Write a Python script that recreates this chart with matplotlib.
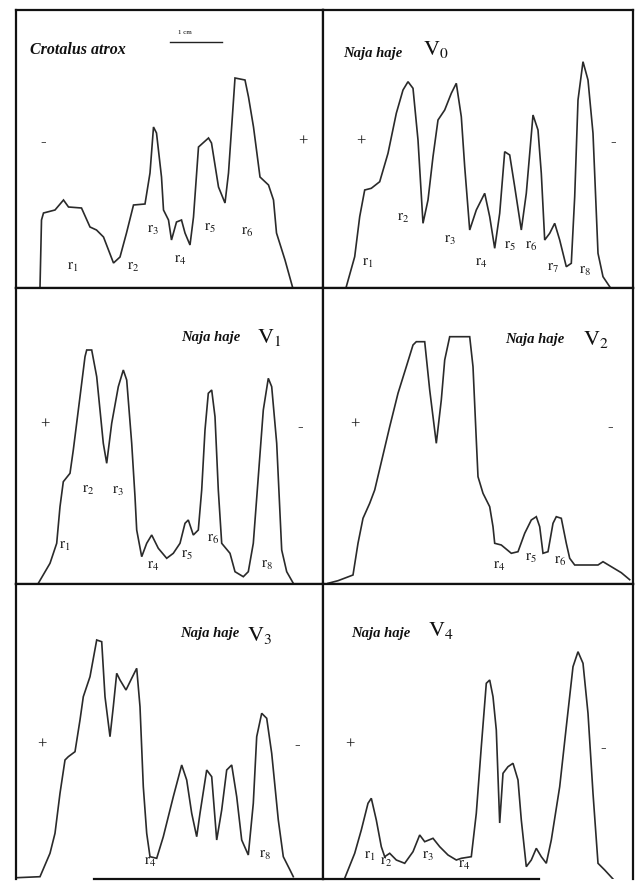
import matplotlib.pyplot as plt
from matplotlib.lines import Line2D

plt.rcParams["font.family"] = ["Liberation Serif", "DejaVu Serif"]
plt.rcParams["mathtext.fontset"] = "stix"

# densitometer traces: x along the strip, y = density (px)
atrox_x = [24.5, 26, 28, 39.5, 48, 53, 66, 74.5, 81, 88, 98, 104.5, 111, 118, 129.5,
           134.5, 138, 141, 146, 148, 153, 156, 161, 166, 169.5, 174.5, 178, 183, 193,
           196, 203, 209.5, 213, 218, 219.5, 229.5, 233, 238, 241, 244.5, 253, 258,
           261, 269.5, 277]
atrox_y = [1, 68, 75, 78, 88, 81, 80, 61, 58, 51, 25, 31, 55, 83, 84,
           115, 161, 155, 111, 78, 68, 48, 66, 68, 55, 43, 71, 141, 150,
           145, 101, 85, 115, 188, 210, 208, 191, 161, 138, 111, 103, 88,
           55, 28, 1]

v0_x = [23.3, 31.7, 36.7, 41.7, 48.3, 56.7, 65, 73.3, 80, 85, 90, 95, 100, 105, 110,
        115, 121.7, 128.3, 133.3, 138.3, 141.7, 146.7, 153.3, 161.7, 166.7, 171.7,
        176.7, 181.7, 186.7, 191.7, 198.3, 203.3, 210, 215, 218.3, 221.7, 226.7,
        231.7, 236.7, 243.3, 248.3, 251.7, 255, 260, 265, 270, 275, 280, 286.7]
v0_y = [1.3, 31.3, 71.3, 98, 99.7, 106.3, 134.7, 174.7, 198, 206.3, 199.7, 148, 64.7,
        88, 131.3, 168, 178, 194.7, 204.7, 171.3, 121.3, 58, 78, 94.7, 71.3, 39.7,
        74.7, 136.3, 133, 101.3, 58, 94.7, 173, 158, 114.7, 48, 54.7, 64.7, 48, 21.3,
        24.7, 91.3, 188, 226.3, 208, 154.7, 34.7, 11.3, 1.3]

v1_x = [22.8, 34.5, 41.2, 44.5, 47.8, 54.5, 57.8, 64.5, 69.5, 71.2, 76.2, 81.2, 87.8,
        91.2, 96.2, 102.8, 107.8, 111.2, 116.2, 119.5, 121.2, 126.2, 131.2, 136.2,
        142.8, 151.2, 157.8, 164.5, 169.5, 172.8, 177.8, 182.8, 186.2, 189.5, 192.8,
        196.2, 199.5, 202.8, 206.2, 214.5, 219.5, 227.8, 232.8, 237.8, 242.8, 247.8,
        252.8, 256.2, 261.2, 266.2, 271.2, 277.8]
v1_y = [0.7, 20.7, 40.7, 77.3, 102.3, 110.7, 134, 187.3, 227.3, 234, 234, 207.3, 140.7,
        120.7, 160.7, 197.3, 214, 204, 140.7, 87.3, 54, 27.3, 40.7, 49, 35.7, 25.7,
        30.7, 40.7, 60.7, 64, 49, 54, 94, 154, 190.7, 194, 167.3, 94, 40.7, 30.7,
        12.3, 7.3, 12.3, 40.7, 107.3, 174, 205.7, 197.3, 140.7, 34, 12.3, 0.7]

v2_x = [5, 15, 30, 35, 40, 46.7, 51.7, 60, 66.7, 75, 83.3, 90, 93.3, 101.7, 106.7,
        113.3, 118.3, 121.7, 126.7, 146.7, 150, 153.3, 155, 160, 166.7, 170, 171.7,
        178.3, 188.3, 195, 201.7, 208.3, 213.3, 216.7, 220, 225, 230, 233.3, 238.3,
        243.3, 246.7, 251.7, 275, 280, 298.3, 306.7]
v2_y = [0.7, 3.3, 9, 40.7, 65.7, 80.7, 94, 129, 157.3, 190.7, 217.3, 239, 242.3, 242.3,
        194, 140.7, 184, 224, 247.3, 247.3, 217.3, 144, 107.3, 90.7, 77.3, 57.3, 40.7,
        39, 30.7, 32.3, 50.7, 64, 67.3, 57.3, 30.7, 32.3, 60.7, 67.3, 65.7, 40.7,
        25.7, 19, 19, 22.3, 11.3, 4.3]

v3_x = [1.2, 24.5, 34.5, 39.5, 44.5, 49.5, 52.8, 59.5, 64.5, 67.8, 74.5, 81.2, 86.2,
        89.5, 94.5, 97.8, 101.2, 104.5, 110.5, 116.2, 121.2, 124.5, 127.8, 131.2,
        134.5, 141.2, 147.8, 157.8, 166.2, 171.2, 176.2, 181.2, 184.5, 191.2, 196.2,
        201.2, 206.2, 211.2, 216.2, 221.2, 226.2, 232.8, 237.8, 241.2, 246.2, 251.2,
        256.2, 262.8, 267.8, 274.5, 277.8]
v3_y = [1.3, 2.3, 25.7, 45.7, 85.7, 119, 122.3, 127.3, 159, 182.3, 202.3, 239, 237.3,
        182.3, 142.3, 172.3, 205.7, 199, 189, 200.7, 210.7, 172.3, 92.3, 45.7, 22.3,
        20.7, 42.3, 82.3, 114, 99, 65.7, 42.3, 65.7, 109, 102.3, 39, 69, 109, 114,
        82.3, 39, 24, 75.7, 142.3, 165.7, 160.7, 125.7, 59, 22.3, 9, 2.3]

v4_x = [21.7, 31.7, 38.3, 45, 48.3, 53.3, 58.3, 61.7, 66.7, 73.3, 81.7, 90, 96.7,
        101.7, 110, 116.7, 125, 133.3, 138.3, 148.3, 153.3, 158.3, 163.3, 166.7, 170,
        173.3, 176.7, 180, 185, 190, 195, 198.3, 203.3, 208.3, 213.3, 218.3, 223.3,
        228.3, 236.7, 243.3, 250, 255, 260, 265, 270, 275, 281.7, 290]
v4_y = [0.7, 25.7, 49, 75.7, 80.7, 59, 32.3, 22.3, 25.7, 19, 15.7, 27.3, 44, 37.3,
        40.7, 32.3, 24, 19, 20.7, 22.3, 65.7, 132.3, 195.7, 199, 182.3, 149, 56,
        105.7, 112.3, 115.7, 99, 59, 12.3, 19, 30.7, 22.3, 15.7, 39, 92.3, 152.3,
        212.3, 227.3, 215.7, 165.7, 85.7, 15.7, 9, 0]

# band labels: (index, x, y)
atrox_bands = [(1, 57.5, 21), (2, 117.5, 21), (3, 137.5, 58), (4, 164.5, 28),
               (5, 194.5, 60), (6, 231.5, 56)]
v0_bands = [(1, 45, 24.7), (2, 80, 69.7), (3, 126.7, 48), (4, 158.3, 24.7), (5, 186.7, 41.3),
            (6, 208.3, 41.3), (7, 230, 19.7), (8, 261.7, 16.3)]
v1_bands = [(1, 49.5, 37.3), (2, 72.8, 94), (3, 102.8, 92.3), (4, 137.8, 18), (5, 171.2, 29),
            (6, 197.8, 44.7), (8, 251.2, 19)]
v2_bands = [(4, 176.7, 17.3), (5, 208.3, 25.7), (6, 236.7, 22.3)]
v3_bands = [(4, 134.5, 16.3), (8, 249.5, 24)]
v4_bands = [(1, 46.7, 22.3), (2, 63.3, 16.3), (3, 105, 22.3), (4, 141.7, 14)]

species = ["Crotalus atrox", "Naja haje", "Naja haje", "Naja haje", "Naja haje", "Naja haje"]
fractions = [None, 0, 1, 2, 3, 4]
left_sign = ["-", "+", "+", "+", "+", "+"]
right_sign = ["+", "-", "-", "-", "-", "-"]

traces = [(atrox_x, atrox_y), (v0_x, v0_y), (v1_x, v1_y),
          (v2_x, v2_y), (v3_x, v3_y), (v4_x, v4_y)]
bands = [atrox_bands, v0_bands, v1_bands, v2_bands, v3_bands, v4_bands]

# layout in figure pixels
W, H = 637, 884
cols = [(15.5, 323), (323, 633)]
rows = [(10, 288), (288, 584), (584, 879)]
title_pos = [(14.5, 238), (20, 235), (166, 247), (182, 244), (165, 246), (28, 246)]
sub_pos = [None, (113, 238), (254, 246), (273, 244), (244, 244), (118, 249)]
sign_pos = [((27.5, 146), (287.5, 146)), ((37.7, 146), (290, 146)),
            ((29.5, 159), (284.5, 157)), ((31.7, 159), (286.7, 157)),
            ((26.2, 134), (281.2, 134)), ((26.7, 134), (280, 131))]

fig = plt.figure(figsize=(W / 100, H / 100), dpi=100)

for i in range(6):
    r, c = divmod(i, 2)
    x0, x1 = cols[c]
    y0, y1 = rows[r]
    ax = fig.add_axes([x0 / W, 1 - y1 / H, (x1 - x0) / W, (y1 - y0) / H])
    ax.set_xlim(0, x1 - x0)
    ax.set_ylim(0, y1 - y0)
    ax.set_xticks([])
    ax.set_yticks([])
    for s in ax.spines.values():
        s.set_linewidth(1.6)
        s.set_color("#111111")
    if r == 2:
        ax.spines["bottom"].set_visible(False)

    tx, ty = traces[i]
    ax.plot(tx, ty, color="#2a2a2a", lw=1.2, solid_joinstyle="miter")

    for k, bx, by in bands[i]:
        ax.text(bx, by, r"$\mathrm{r}_{%d}$" % k, fontsize=11, ha="center", va="center",
                color="#1a1a1a")

    (lx, ly), (rx, ry) = sign_pos[i]
    ax.text(lx, ly, left_sign[i], fontsize=12, ha="center", va="center", color="#1a1a1a")
    ax.text(rx, ry, right_sign[i], fontsize=12, ha="center", va="center", color="#1a1a1a")

    nx, ny = title_pos[i]
    ax.text(nx, ny, species[i], fontsize=11.5 if i == 0 else 10.5, style="italic",
            weight="bold", ha="left", va="center", color="#111111")
    if fractions[i] is not None:
        sx, sy = sub_pos[i]
        ax.text(sx, sy, r"$\mathrm{V}_{%d}$" % fractions[i], fontsize=16,
                ha="center", va="center", color="#111111")

    if i == 0:
        # 1 cm scale bar
        ax.plot([154.5, 206.5], [246, 246], color="#222222", lw=1.0)
        ax.text(169.5, 255, "1 cm", fontsize=5, ha="center", va="center")

# partial bottom edge of the last row, as on the scan
fig.add_artist(Line2D([94 / W, 539 / W], [1 - 879 / H, 1 - 879 / H],
                      color="#111111", lw=1.6, transform=fig.transFigure))

fig.savefig("out.png", dpi=100, facecolor="white")
